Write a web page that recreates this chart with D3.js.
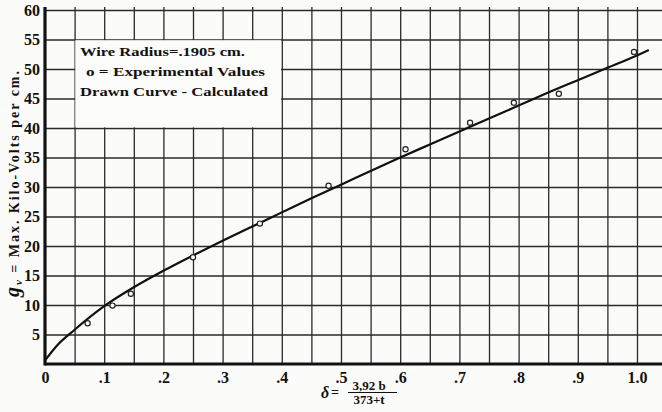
<!DOCTYPE html>
<html>
<head>
<meta charset="utf-8">
<script src="https://cdn.jsdelivr.net/npm/d3@7"></script>
<style>
  html, body { margin: 0; padding: 0; background: #fbfbfa; }
  svg { display: block; }
  text { font-family: "Liberation Serif", "DejaVu Serif", serif; font-weight: bold; fill: #111; }
</style>
</head>
<body>
<svg id="chart" width="662" height="412"></svg>
<script>
// ---- data ----
const curveX = [0, 0.02, 0.05, 0.1, 0.15, 0.2, 0.25, 0.3, 0.35, 0.4, 0.45, 0.5, 0.55, 0.6, 0.65, 0.7, 0.75, 0.8, 0.85, 0.9, 0.95, 1.0, 1.02];
const curveY = [0.6, 3.1, 5.8, 9.8, 13.0, 15.8, 18.4, 20.9, 23.3, 25.7, 28.1, 30.4, 32.7, 35.0, 37.2, 39.4, 41.6, 43.8, 46.0, 48.1, 50.2, 52.3, 53.2];
const expX = [0.072, 0.114, 0.145, 0.25, 0.363, 0.479, 0.609, 0.718, 0.792, 0.868, 0.995];
const expY = [6.9, 9.9, 11.9, 18.1, 23.8, 30.2, 36.4, 40.9, 44.3, 45.8, 52.9];
const xTickValues = [0, 0.1, 0.2, 0.3, 0.4, 0.5, 0.6, 0.7, 0.8, 0.9, 1.0];
const xTickLabels = ["0", ".1", ".2", ".3", ".4", ".5", ".6", ".7", ".8", ".9", "1.0"];
const yTickValues = [5, 10, 15, 20, 25, 30, 35, 40, 45, 50, 55, 60];
const xGridValues = d3.range(1, 21).map(i => i * 0.05);
const yGridValues = yTickValues;
const legendLines = ["Wire Radius=.1905 cm.", "o = Experimental Values", "Drawn Curve - Calculated"];

// ---- layout ----
const svg = d3.select("#chart");
const W = 662, H = 412;
const x = d3.scaleLinear().domain([0, 1]).range([45, 637]);
const y = d3.scaleLinear().domain([0, 60]).range([364, 10]);
const xMax = x.invert(W);

// grid
const gridColor = "#2a2a2a";
const gx = svg.append("g")
  .attr("transform", `translate(0,${y(0)})`)
  .call(d3.axisBottom(x).tickValues(xGridValues).tickSize(-(y(0) - y(60) + 3)).tickFormat(""));
gx.select(".domain").remove();
gx.selectAll("line").attr("stroke", gridColor).attr("stroke-width", 1.3);

const gy = svg.append("g")
  .attr("transform", `translate(${x(0)},0)`)
  .call(d3.axisLeft(y).tickValues(yGridValues).tickSize(-(x(xMax) - x(0))).tickFormat(""));
gy.select(".domain").remove();
gy.selectAll("line").attr("stroke", gridColor).attr("stroke-width", 1.3);

// legend box (white, covering grid)
const lx0 = x(0.05), lx1 = x(0.40), ly0 = y(55), ly1 = y(40);
svg.append("rect")
  .attr("x", lx0 + 0.7).attr("y", ly0 + 0.7)
  .attr("width", lx1 - lx0 - 1.4).attr("height", ly1 - ly0 - 1.4)
  .attr("fill", "#fcfcfb");
const legendX = [80, 86, 80];
const legendW = [165, 179, 188];
const legendBase = [56, 76, 96];
svg.append("g").selectAll("text").data(legendLines).join("text")
  .attr("x", (d, i) => legendX[i])
  .attr("y", (d, i) => legendBase[i])
  .attr("font-size", 12.5)
  .attr("textLength", (d, i) => legendW[i])
  .attr("lengthAdjust", "spacingAndGlyphs")
  .text(d => d);

// axes (thick)
svg.append("line").attr("x1", x(0)).attr("x2", W).attr("y1", y(0)).attr("y2", y(0))
  .attr("stroke", "#111").attr("stroke-width", 3.2);
svg.append("line").attr("x1", x(0)).attr("x2", x(0)).attr("y1", y(60) - 3).attr("y2", y(0) + 1.5)
  .attr("stroke", "#111").attr("stroke-width", 3.2);

// y tick labels
const yl = svg.append("g")
  .attr("transform", `translate(${x(0) - 3},0)`)
  .call(d3.axisLeft(y).tickValues(yTickValues).tickSize(0).tickPadding(2));
yl.select(".domain").remove();
yl.selectAll("text")
  .attr("font-family", "Liberation Serif, serif").attr("font-weight", "bold")
  .attr("font-size", 16).attr("fill", "#111");

// x tick labels
const xl = svg.append("g")
  .attr("transform", `translate(0,${y(0)})`)
  .call(d3.axisBottom(x).tickValues(xTickValues).tickSize(0).tickPadding(8)
    .tickFormat((d, i) => xTickLabels[i]));
xl.select(".domain").remove();
xl.selectAll("text")
  .attr("font-family", "Liberation Serif, serif").attr("font-weight", "bold")
  .attr("font-size", 16).attr("fill", "#111");

// calculated curve
const curveData = curveX.map((d, i) => [d, curveY[i]]);
svg.append("path")
  .datum(curveData)
  .attr("fill", "none").attr("stroke", "#111").attr("stroke-width", 2.2)
  .attr("d", d3.line().x(d => x(d[0])).y(d => y(d[1])).curve(d3.curveMonotoneX));

// experimental points
svg.append("g").selectAll("circle").data(expX.map((d, i) => [d, expY[i]])).join("circle")
  .attr("cx", d => x(d[0])).attr("cy", d => y(d[1])).attr("r", 2.6)
  .attr("fill", "#fcfcfb").attr("stroke", "#222").attr("stroke-width", 1.2);

// y axis title (rotated)
const yt = svg.append("text")
  .attr("transform", "translate(19,184) rotate(-90)")
  .attr("text-anchor", "middle")
  .attr("font-size", 14)
  .attr("textLength", 226)
  .attr("lengthAdjust", "spacing");
yt.append("tspan").attr("font-style", "italic").attr("font-size", 20).text("g");
yt.append("tspan").attr("font-style", "italic").attr("font-size", 11).attr("dy", 3).text("v");
yt.append("tspan").attr("dy", -3).text(" = Max. Kilo-Volts per cm.");

// x axis title: delta = 3.92 b / (373 + t)
const ft = svg.append("g");
ft.append("text").attr("x", 321).attr("y", 398).attr("font-size", 16).attr("font-style", "italic").text("δ");
ft.append("text").attr("x", 331).attr("y", 397).attr("font-size", 14).text("=");
ft.append("text").attr("x", 369).attr("y", 390).attr("font-size", 13).attr("text-anchor", "middle").text("3,92 b");
ft.append("line").attr("x1", 348).attr("x2", 397).attr("y1", 392.5).attr("y2", 392.5)
  .attr("stroke", "#111").attr("stroke-width", 1.2);
ft.append("text").attr("x", 369).attr("y", 404).attr("font-size", 13).attr("text-anchor", "middle").text("373+t");
</script>
</body>
</html>
